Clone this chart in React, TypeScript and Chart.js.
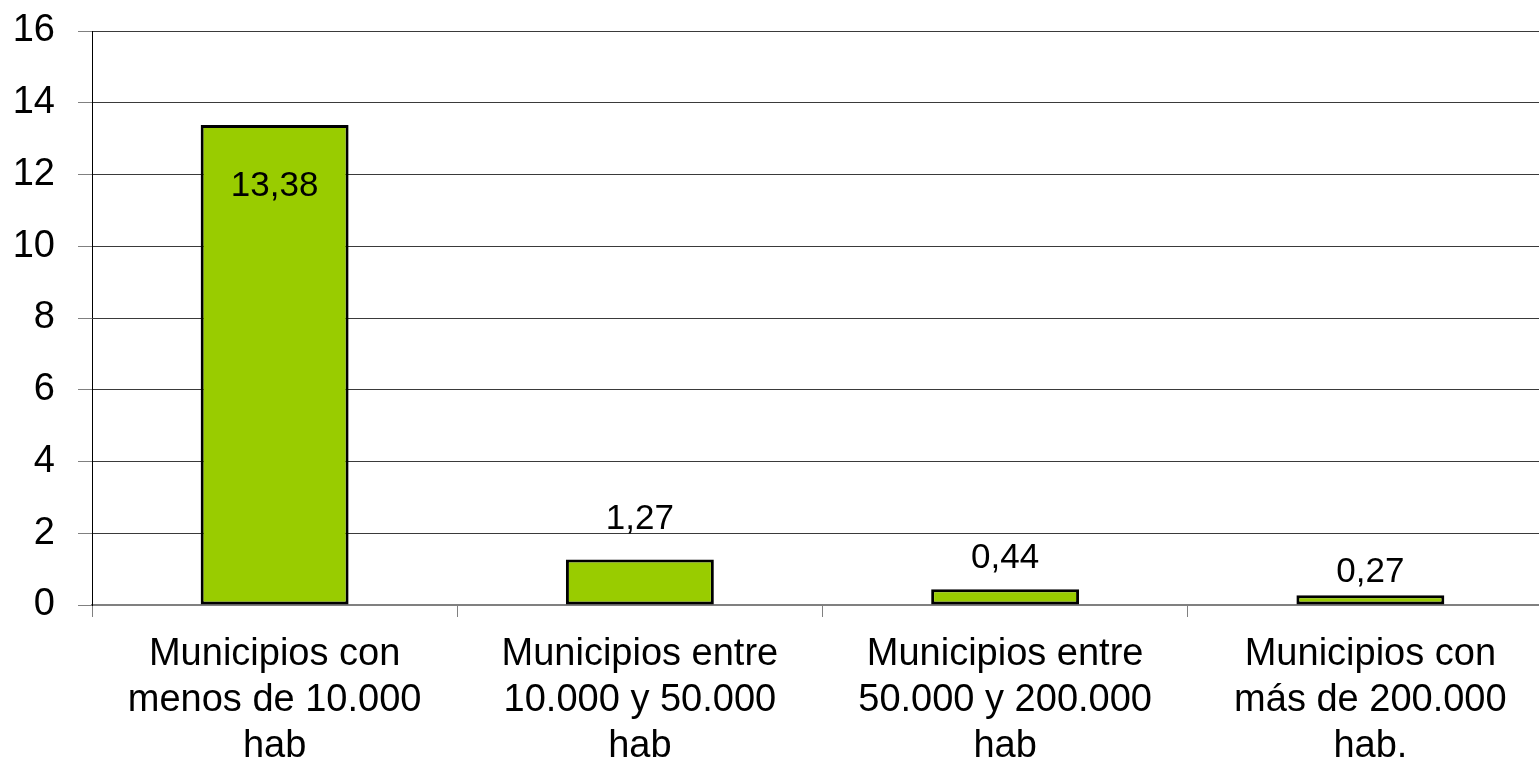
import React, { useEffect, useRef } from "react";
import { Chart, registerables } from "chart.js";

Chart.register(...registerables);

// Municipality size groups (each label split into its three printed lines)
const categories: string[][] = [
  ["Municipios con", "menos de 10.000", "hab"],
  ["Municipios entre", "10.000 y 50.000", "hab"],
  ["Municipios entre", "50.000 y 200.000", "hab"],
  ["Municipios con", "más de 200.000", "hab."],
];

// Value per group
const values: number[] = [13.38, 1.27, 0.44, 0.27];

// Y axis range and step
const yMin = 0;
const yMax = 16;
const yStep = 2;

// Vertical placement of each value label relative to its bar top (px, positive = above)
const labelLift: number[] = [-61, 40, 31, 23];

const FONT = "'Liberation Sans', Arial, sans-serif";

const formatValue = (v: number) => v.toFixed(2).replace(".", ",");

const valueLabels = {
  id: "valueLabels",
  afterDatasetsDraw(chart: any) {
    const ctx = chart.ctx;
    const meta = chart.getDatasetMeta(0);
    ctx.save();
    ctx.font = `35px ${FONT}`;
    ctx.fillStyle = "#000";
    ctx.textAlign = "center";
    ctx.textBaseline = "middle";
    meta.data.forEach((bar: any, i: number) => {
      const v = chart.data.datasets[0].data[i] as number;
      const top = chart.scales.y.getPixelForValue(v);
      ctx.fillText(formatValue(v), bar.x, top - labelLift[i]);
    });
    ctx.restore();
  },
};

export default function App() {
  const canvasRef = useRef<HTMLCanvasElement | null>(null);

  useEffect(() => {
    if (!canvasRef.current) return;
    const chart = new Chart(canvasRef.current, {
      type: "bar",
      data: {
        labels: categories,
        datasets: [
          {
            data: values,
            backgroundColor: "#99CC00",
            borderColor: "#000000",
            borderWidth: 3,
            borderSkipped: false,
            categoryPercentage: 1,
            barPercentage: 0.405,
          },
        ],
      },
      options: {
        responsive: false,
        animation: false,
        devicePixelRatio: 1,
        layout: { padding: { top: 31, left: 0, right: 0, bottom: 0 } },
        plugins: {
          legend: { display: false },
          tooltip: { enabled: false },
        },
        scales: {
          x: {
            offset: true,
            grid: {
              offset: true,
              drawOnChartArea: false,
              drawTicks: true,
              tickLength: 12,
              tickColor: "#808080",
              lineWidth: 1,
            },
            border: { display: true, color: "#808080", width: 2 },
            ticks: {
              color: "#000",
              font: { family: FONT, size: 38, lineHeight: 1.21 },
              padding: 15,
              maxRotation: 0,
              autoSkip: false,
            },
            afterFit: (scale: any) => {
              scale.height = 160;
              scale.paddingLeft = 0;
              scale.paddingRight = 0;
            },
          },
          y: {
            min: yMin,
            max: yMax,
            ticks: {
              stepSize: yStep,
              color: "#000",
              font: { family: FONT, size: 38 },
              padding: 23,
            },
            grid: {
              color: "#3a3a3a",
              lineWidth: 1,
              tickLength: 14,
              tickColor: "#808080",
            },
            border: { display: true, color: "#000", width: 1 },
            afterFit: (scale: any) => {
              scale.width = 92;
              scale.paddingTop = 0;
              scale.paddingBottom = 0;
            },
          },
        },
      },
      plugins: [valueLabels],
    });
    return () => chart.destroy();
  }, []);

  return (
    <div
      style={{
        position: "fixed",
        left: 0,
        top: 0,
        width: "100vw",
        height: "100vh",
        overflow: "hidden",
        background: "#fff",
      }}
    >
      <canvas ref={canvasRef} width={1553} height={765} style={{ display: "block" }} />
    </div>
  );
}
